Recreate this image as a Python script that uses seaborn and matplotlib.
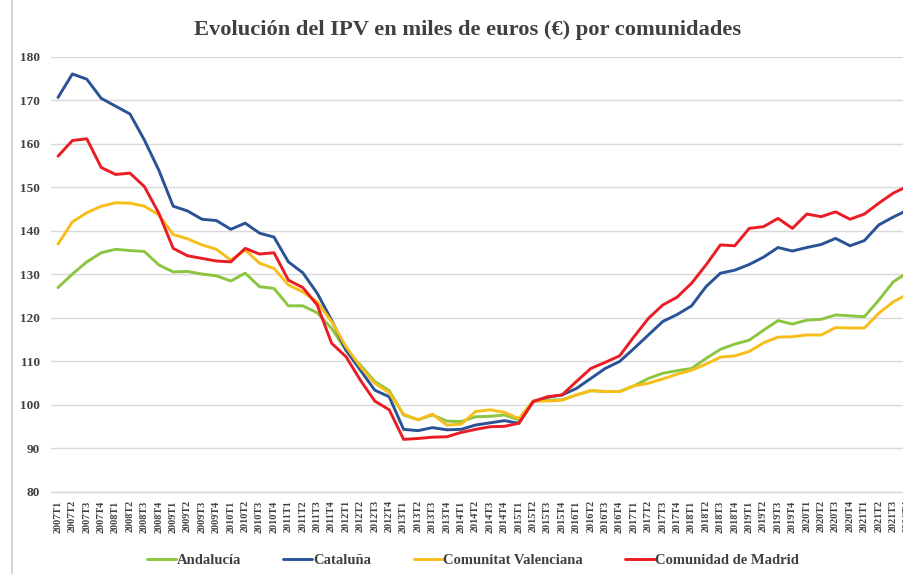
import numpy as np
import pandas as pd
import matplotlib
matplotlib.use("Agg")
import matplotlib.pyplot as plt
from matplotlib.lines import Line2D
import seaborn as sns

# Quarterly periods 2007T1 .. 2021T4
years = list(range(2007, 2022))
quarters = [f"{y}T{q}" for y in years for q in range(1, 5)]

andalucia = [127.0, 130.1, 132.9, 135.0, 135.8, 135.5, 135.3, 132.2, 130.6, 130.7,
             130.1, 129.7, 128.5, 130.3, 127.2, 126.8, 122.8, 122.8, 121.2, 117.6,
             112.6, 109.2, 105.4, 103.3, 97.7, 96.6, 97.7, 96.3, 96.2, 97.3,
             97.4, 97.7, 96.6, 100.9, 101.1, 101.2, 102.3, 103.3, 103.1, 103.1,
             104.4, 106.1, 107.3, 107.9, 108.4, 110.7, 112.8, 114.0, 114.9, 117.2,
             119.4, 118.6, 119.5, 119.7, 120.7, 120.5, 120.3, 124.1, 128.3, 130.5]

cataluna = [170.7, 176.1, 174.9, 170.5, 168.7, 166.9, 160.9, 154.0, 145.7, 144.6,
            142.7, 142.4, 140.4, 141.8, 139.5, 138.6, 132.9, 130.4, 125.7, 119.5,
            112.6, 108.0, 103.4, 101.9, 94.4, 94.1, 94.8, 94.3, 94.4, 95.4,
            95.9, 96.4, 95.8, 100.8, 101.8, 102.3, 103.8, 106.1, 108.4, 110.0,
            113.0, 116.1, 119.2, 120.8, 122.8, 127.2, 130.3, 131.0, 132.3, 134.0,
            136.2, 135.4, 136.2, 136.9, 138.3, 136.6, 137.8, 141.4, 143.2, 144.8]

valenciana = [137.0, 142.1, 144.2, 145.7, 146.5, 146.4, 145.7, 143.7, 139.2, 138.2,
              136.8, 135.8, 133.3, 135.6, 132.6, 131.4, 127.6, 126.0, 123.7, 119.2,
              113.4, 108.8, 105.0, 102.8, 97.9, 96.6, 97.9, 95.4, 95.6, 98.5,
              98.9, 98.3, 96.9, 100.9, 100.9, 101.1, 102.3, 103.3, 103.1, 103.1,
              104.4, 105.0, 106.0, 107.1, 108.0, 109.4, 111.0, 111.3, 112.3, 114.3,
              115.6, 115.7, 116.1, 116.1, 117.8, 117.7, 117.7, 121.1, 123.7, 125.5]

madrid = [157.2, 160.8, 161.2, 154.6, 153.0, 153.3, 150.2, 144.1, 136.0, 134.3,
          133.7, 133.1, 132.9, 136.0, 134.7, 135.0, 128.7, 127.0, 123.0, 114.2,
          111.1, 105.7, 100.9, 98.9, 92.1, 92.3, 92.6, 92.7, 93.7, 94.4,
          95.0, 95.1, 95.8, 100.8, 101.9, 102.3, 105.4, 108.4, 109.8, 111.3,
          115.7, 119.9, 123.0, 124.8, 128.0, 132.2, 136.8, 136.6, 140.6, 141.0,
          142.9, 140.6, 143.9, 143.3, 144.4, 142.7, 143.9, 146.4, 148.7, 150.3]

series_names = ["Andalucía", "Cataluña", "Comunitat Valenciana", "Comunidad de Madrid"]
series_values = [andalucia, cataluna, valenciana, madrid]
colors = ["#8CC640", "#2A5296", "#F7BE1A", "#EC1C24"]

df = pd.concat(
    [pd.DataFrame({"periodo": np.arange(len(quarters)), "valor": vals, "comunidad": name})
     for name, vals in zip(series_names, series_values)],
    ignore_index=True,
)

sns.set_style("white")
plt.rcParams["font.family"] = ["Liberation Serif", "DejaVu Serif"]

fig = plt.figure(figsize=(9.04, 5.74), dpi=100)
fig.patch.set_facecolor("white")
ax = fig.add_axes([50.8 / 904, 82 / 574, 864 / 904, 435 / 574])

sns.lineplot(data=df, x="periodo", y="valor", hue="comunidad",
             palette=dict(zip(series_names, colors)), hue_order=series_names,
             linewidth=2.1, ax=ax, legend=False)

ax.set_xlim(-0.5, len(quarters) - 0.5)
ax.set_ylim(80, 180)
ax.set_yticks(np.arange(80, 181, 10))
ax.yaxis.grid(True, color="#d9d9d9", linewidth=1.0)
ax.set_axisbelow(True)
for side in ["top", "right", "left"]:
    ax.spines[side].set_visible(False)
ax.spines["bottom"].set_color("#d9d9d9")
ax.spines["bottom"].set_linewidth(1.0)

ax.set_xticks(np.arange(len(quarters)))
ax.set_xticklabels(quarters, rotation=90, fontsize=7.3, fontweight="bold", color="#404040")
ax.tick_params(axis="x", length=0, pad=6)
ax.tick_params(axis="y", length=0, pad=8, labelsize=9.5, labelcolor="#404040")
for lbl in ax.get_yticklabels():
    lbl.set_fontweight("bold")
ax.set_xlabel("")
ax.set_ylabel("")

fig.text(468 / 904, 1 - 30 / 574, "Evolución del IPV en miles de euros (€) por comunidades",
         ha="center", va="center", fontsize=16.2, fontweight="bold", color="#404040")

# Chart frame edge on the left
fig.add_artist(Line2D([12 / 904, 12 / 904], [0, 1], transform=fig.transFigure,
                      color="#d0d0d0", linewidth=1.2))

handles = [Line2D([0], [0], color=c, linewidth=2.1) for c in colors]
fig.legend(handles, series_names, loc="center", bbox_to_anchor=(473 / 904, 1 - 560 / 574),
           ncol=4, frameon=False, prop={"size": 10.5, "weight": "bold"},
           handlelength=2.0, handletextpad=0.05, columnspacing=2.9, labelcolor="#404040")

fig.savefig("out.png", dpi=100, facecolor="white")
